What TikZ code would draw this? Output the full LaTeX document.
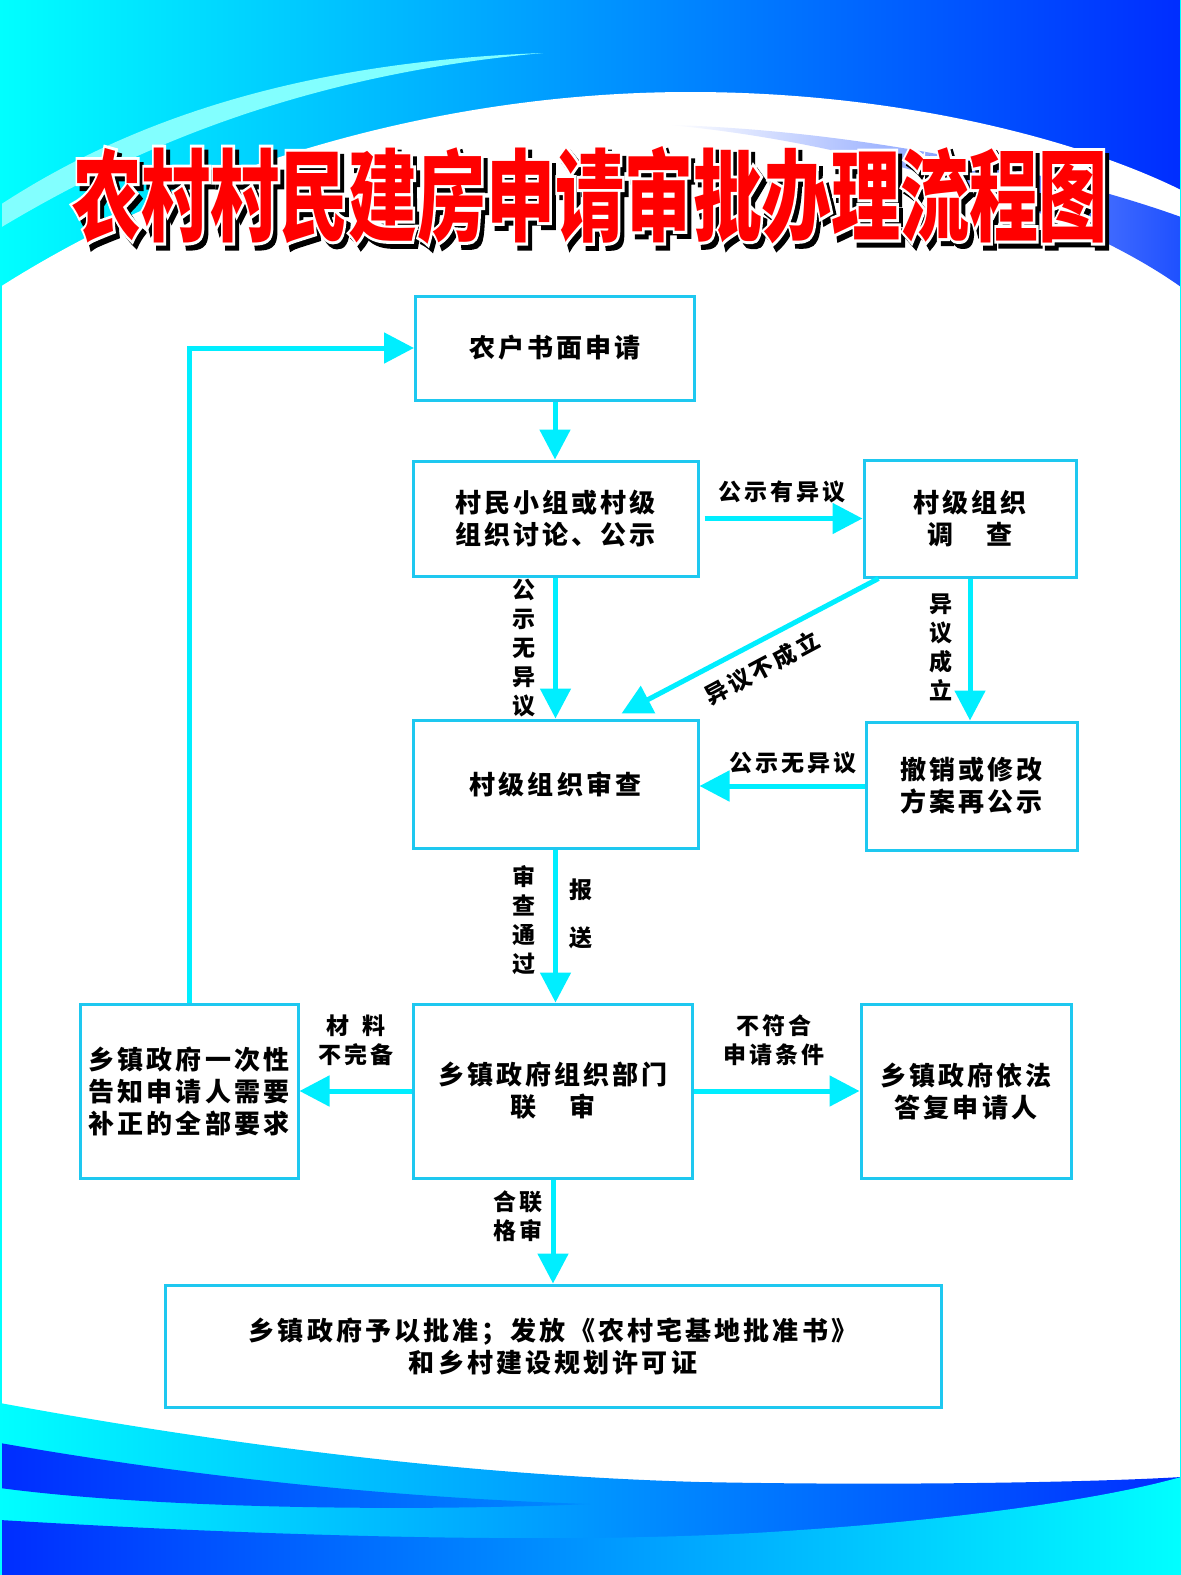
\documentclass[tikz,border=0pt]{standalone}
\usepackage{fontspec}
\usepackage{graphicx}
\setmainfont{Noto Sans CJK SC}[LetterSpace=12]
\newfontfamily\titlefont{Noto Sans CJK SC}
\newfontfamily\titleedge{Noto Sans CJK SC}[BoldFeatures={FakeBold=6}]
\usetikzlibrary{arrows.meta,positioning,calc}
\definecolor{linecyan}{RGB}{0,238,255}
\definecolor{boxcyan}{RGB}{30,200,240}
\definecolor{bgcyan}{RGB}{0,255,255}
\definecolor{bgblue}{RGB}{0,45,255}
\definecolor{stripecyan}{RGB}{130,255,255}
\definecolor{streakblue}{RGB}{30,80,255}
\newcommand{\titletext}{\scalebox{0.69}[1]{农村村民建房申请审批办理流程图}}

\begin{document}
\begin{tikzpicture}[x=1pt, y=-1pt,
    stepbox/.style={draw=boxcyan, line width=3pt, fill=white, align=center, inner sep=0pt,
      font=\fontsize{26}{32}\selectfont\bfseries},
    flow/.style={draw=linecyan, line width=5pt, -{Triangle[width=30pt,length=30pt]}},
    note/.style={align=center, inner sep=0pt, font=\fontsize{23}{29}\selectfont\bfseries},
    titlelayer/.style={inner sep=0pt, font=\titlefont\fontsize{100}{110}\selectfont\bfseries},
    edgelayer/.style={inner sep=0pt, font=\titleedge\fontsize{100}{110}\selectfont\bfseries}]
  \useasboundingbox (0,0) rectangle (1181,1575);

  % background
  \fill[white] (0,0) rectangle (1181,1575);
  \shade[left color=bgcyan, right color=bgblue] (0,0) rectangle (1181,300);
  \fill[stripecyan] (0,205) .. controls (130,120) and (300,62) .. (543,53)
    .. controls (300,75) and (130,150) .. (0,228) -- cycle;
  \fill[white] (0,287) .. controls (200,160) and (450,92) .. (690,92)
    .. controls (900,92) and (1080,140) .. (1181,190) -- (1181,1575) -- (0,1575) -- cycle;
  \shade[left color=white, right color=streakblue] (670,125) .. controls (850,130) and (1050,170) .. (1181,217)
    -- (1181,287) .. controls (1080,215) and (880,145) .. (670,125) -- cycle;
  \shade[left color=bgcyan, right color=bgblue] (0,1403) .. controls (200,1440) and (450,1475) .. (700,1482)
    .. controls (900,1486) and (1100,1482) .. (1181,1477) -- (1181,1575) -- (0,1575) -- cycle;
  \shade[left color=bgblue, right color={rgb,255:red,0;green,140;blue,255}] (0,1443)
    .. controls (200,1478) and (400,1498) .. (590,1504)
    .. controls (400,1512) and (150,1508) .. (0,1488) -- cycle;
  \shade[left color=bgblue, right color=bgcyan] (0,1520) .. controls (300,1538) and (600,1545) .. (800,1530)
    .. controls (950,1520) and (1100,1500) .. (1181,1477) -- (1181,1575) -- (0,1575) -- cycle;
  \draw[bgcyan, line width=3pt] (0,0) -- (0,1575) (1181,0) -- (1181,1575);

  % title
  \coordinate (titlepos) at (590,195);
  \node[edgelayer, text=black] (tshadow) at ($(titlepos)+(4,5)$) {\titletext};
  \node[edgelayer, text=white] (tedge) at (titlepos) {\titletext};
  \node[titlelayer, text=red] (title) at (titlepos) {\titletext};

  % boxes
  \node[stepbox, minimum width=279pt, minimum height=104pt] (apply) at (555,348) {农户书面申请};
  \node[stepbox, minimum width=285pt, minimum height=115pt] (discuss) at (555.5,518.5) {村民小组或村级\\组织讨论、公示};
  \node[stepbox, minimum width=212pt, minimum height=117pt] (survey) at (970,518.5) {村级组织\\调　查};
  \node[stepbox, minimum width=285pt, minimum height=128pt] (review) at (555.5,784) {村级组织审查};
  \node[stepbox, minimum width=211pt, minimum height=128pt] (revise) at (971.5,786) {撤销或修改\\方案再公示};
  \node[stepbox, minimum width=279pt, minimum height=174pt] (joint) at (553,1091) {乡镇政府组织部门\\联　审};
  \node[stepbox, minimum width=218pt, minimum height=174pt] (notify) at (189,1091) {乡镇政府一次性\\告知申请人需要\\补正的全部要求};
  \node[stepbox, minimum width=210pt, minimum height=174pt] (reply) at (966,1091) {乡镇政府依法\\答复申请人};
  \node[stepbox, minimum width=776pt, minimum height=122pt] (approve) at (553,1346) {乡镇政府予以批准；发放《农村宅基地批准书》\\和乡村建设规划许可证};

  % arrows
  \draw[flow] (apply.south) -- (apply.south |- discuss.north);
  \draw[flow] ($(discuss.east)+(5,0)$) -- (survey.west);
  \draw[flow] (discuss.south) -- (discuss.south |- review.north);
  \draw[flow] ($(survey.south west)+(16,0)$) -- ($(review.north east)+(-78,-5)$);
  \draw[flow] (survey.south) -- (survey.south |- revise.north);
  \draw[flow] (revise.west) -- (revise.west -| review.east);
  \draw[flow] (review.south) -- (review.south |- joint.north);
  \draw[flow] (joint.west) -- (notify.east);
  \draw[flow] (joint.east) -- (reply.west);
  \draw[flow] (joint.south) -- (joint.south |- approve.north);
  \draw[flow] (notify.north) |- (apply.west);

  % labels
  \node[note] (objyes) at (782,492) {公示有异议};
  \node[note] (pubno) at (524,648) {公\\示\\无\\异\\议};
  \node[note, rotate=28] (objfail) at (762,668) {异议不成立};
  \node[note] (objok) at (941,647) {异\\议\\成\\立};
  \node[note] (pubno2) at (793,763) {公示无异议};
  \node[note] (passed) at (524,920) {审\\查\\通\\过};
  \node[note] (submit) at (581,914) {报\\[19pt]送};
  \node[note] (lack) at (356,1040) {材\hspace{14pt}料\\不完备};
  \node[note] (unfit) at (774,1040) {不符合\\申请条件};
  \node[note] (ok) at (518,1216) {合联\\格审};
\end{tikzpicture}
\end{document}
